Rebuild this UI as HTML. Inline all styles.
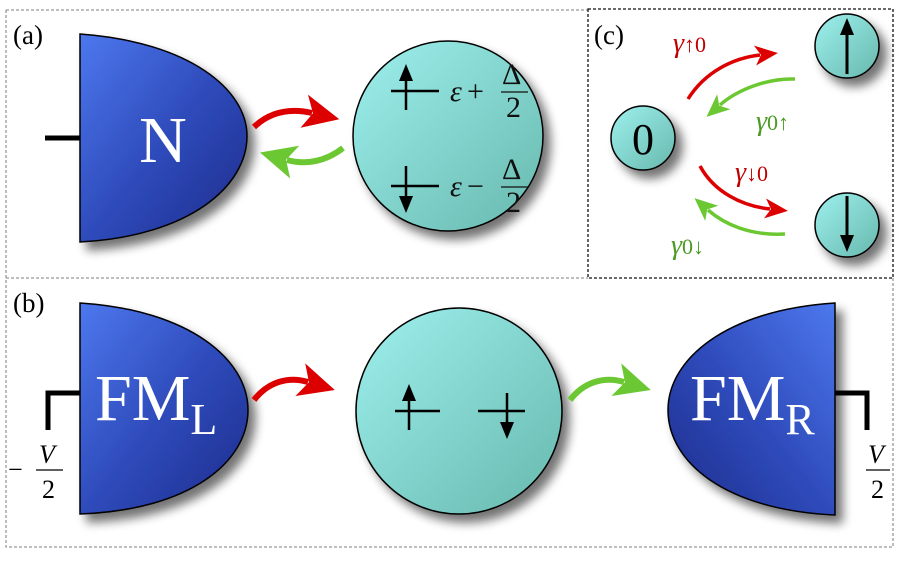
<!DOCTYPE html>
<html><head><meta charset="utf-8"><style>
body{margin:0;background:#fff}
text{font-family:"Liberation Serif","DejaVu Serif",serif}
</style></head><body>
<svg width="901" height="564" viewBox="0 0 901 564" xmlns="http://www.w3.org/2000/svg" style="font-family:'Liberation Serif','DejaVu Serif',serif">
<defs>
<linearGradient id="bl" x1="0" y1="0" x2="1" y2="1">
<stop offset="0" stop-color="#4d78ee"/><stop offset="0.5" stop-color="#2f4cbc"/><stop offset="1" stop-color="#1d2b8a"/></linearGradient>
<linearGradient id="bl2" x1="1" y1="0" x2="0" y2="1">
<stop offset="0" stop-color="#4d78ee"/><stop offset="0.5" stop-color="#2f4cbc"/><stop offset="1" stop-color="#1d2b8a"/></linearGradient>
<linearGradient id="cy" x1="0" y1="0" x2="1" y2="1">
<stop offset="0" stop-color="#9ef0ee"/><stop offset="1" stop-color="#67b8ad"/></linearGradient>
<filter id="sh" x="-20%" y="-20%" width="150%" height="150%"><feGaussianBlur in="SourceAlpha" stdDeviation="5"/><feOffset dx="7" dy="8"/><feComponentTransfer><feFuncA type="linear" slope="0.55"/></feComponentTransfer><feMerge><feMergeNode/><feMergeNode in="SourceGraphic"/></feMerge></filter>
<marker id="ar" markerWidth="40" markerHeight="40" refX="8" refY="20" orient="auto" markerUnits="userSpaceOnUse"><path d="M0,3 L36,20 L0,37 L9,20Z" fill="#dd0000"/></marker>
<marker id="ag" markerWidth="40" markerHeight="40" refX="8" refY="20" orient="auto" markerUnits="userSpaceOnUse"><path d="M0,3 L36,20 L0,37 L9,20Z" fill="#6cc832"/></marker>
<marker id="ars" markerWidth="24" markerHeight="24" refX="5" refY="12" orient="auto" markerUnits="userSpaceOnUse"><path d="M0,2 L23,12 L0,22 L6,12Z" fill="#dd0000"/></marker>
<marker id="ags" markerWidth="24" markerHeight="24" refX="5" refY="12" orient="auto" markerUnits="userSpaceOnUse"><path d="M0,2 L23,12 L0,22 L6,12Z" fill="#6cc832"/></marker>
<marker id="ak" markerWidth="18" markerHeight="18" refX="1" refY="9" orient="auto" markerUnits="userSpaceOnUse"><path d="M0,2 L17,9 L0,16 Z" fill="#000"/></marker>
</defs>
<path d="M6,10 H588 M6,10 V547 H893 V278 M6,278 H588" fill="none" stroke="#999" stroke-width="1.3" stroke-dasharray="3,2"/>
<rect x="588" y="9" width="305" height="269" fill="none" stroke="#111" stroke-width="1.3" stroke-dasharray="3,2"/>
<!-- (a) -->
<text x="13" y="44" font-size="27">(a)</text>
<line x1="45" y1="138" x2="82" y2="138" stroke="#000" stroke-width="5"/>
<path d="M80,34 C190,42 247,90 247,136 C247,186 190,236 80,242 Z" fill="url(#bl)" stroke="#000" stroke-width="1.5" filter="url(#sh)"/>
<text x="163" y="162" font-size="66" fill="#fff" text-anchor="middle">N</text>
<circle cx="448" cy="136" r="95" fill="url(#cy)" stroke="#000" stroke-width="1.5" filter="url(#sh)"/>
<path d="M254,127 C270,112 290,108 312,113" fill="none" stroke="#dd0000" stroke-width="6" marker-end="url(#ar)"/>
<path d="M343,148 C325,162 305,165 287,160" fill="none" stroke="#6cc832" stroke-width="6" marker-end="url(#ag)"/>
<line x1="391" y1="91" x2="439" y2="91" stroke="#000" stroke-width="2.5"/>
<line x1="406" y1="110" x2="406" y2="80" stroke="#000" stroke-width="2.5" marker-end="url(#ak)"/>
<line x1="391" y1="186" x2="439" y2="186" stroke="#000" stroke-width="2.5"/>
<line x1="406" y1="166" x2="406" y2="197" stroke="#000" stroke-width="2.5" marker-end="url(#ak)"/>
<g font-size="30" fill="#111">
<text x="450" y="101" font-style="italic">ε</text><text x="467" y="101">+</text>
<text x="502" y="84">Δ</text><line x1="501" y1="92" x2="528" y2="92" stroke="#111" stroke-width="1.3"/><text x="506" y="117">2</text>
<text x="450" y="196" font-style="italic">ε</text><text x="467" y="196">−</text>
<text x="502" y="179">Δ</text><line x1="501" y1="187" x2="528" y2="187" stroke="#111" stroke-width="1.3"/><text x="506" y="212">2</text>
</g>
<!-- (c) -->
<text x="594" y="44" font-size="27">(c)</text>
<circle cx="643" cy="138" r="32" fill="url(#cy)" stroke="#000" stroke-width="1.5" filter="url(#sh)"/>
<text x="643" y="154" font-size="44" text-anchor="middle">0</text>
<circle cx="847" cy="46" r="32" fill="url(#cy)" stroke="#000" stroke-width="1.5" filter="url(#sh)"/>
<line x1="847" y1="74" x2="847" y2="34" stroke="#000" stroke-width="3" marker-end="url(#ak)"/>
<circle cx="847" cy="225" r="32" fill="url(#cy)" stroke="#000" stroke-width="1.5" filter="url(#sh)"/>
<line x1="847" y1="196" x2="847" y2="236" stroke="#000" stroke-width="3" marker-end="url(#ak)"/>
<path d="M688,99 C705,72 733,58 760,55" fill="none" stroke="#dd0000" stroke-width="3.5" marker-end="url(#ars)"/>
<path d="M795,79 C767,78 737,90 720,105" fill="none" stroke="#6cc832" stroke-width="3.5" marker-end="url(#ags)"/>
<path d="M700,166 C714,192 742,206 770,209" fill="none" stroke="#dd0000" stroke-width="3.5" marker-end="url(#ars)"/>
<path d="M785,234 C750,236 724,224 708,210" fill="none" stroke="#6cc832" stroke-width="3.5" marker-end="url(#ags)"/>
<g font-size="28">
<text x="673" y="52" fill="#c00000"><tspan font-style="italic">γ</tspan><tspan font-size="22">↑0</tspan></text>
<text x="756" y="130" fill="#4c9a24"><tspan font-style="italic">γ</tspan><tspan font-size="22">0↑</tspan></text>
<text x="735" y="181" fill="#c00000"><tspan font-style="italic">γ</tspan><tspan font-size="22">↓0</tspan></text>
<text x="671" y="254" fill="#4c9a24"><tspan font-style="italic">γ</tspan><tspan font-size="22">0↓</tspan></text>
</g>
<!-- (b) -->
<text x="13" y="312" font-size="27">(b)</text>
<path d="M82,393 H48 V430" fill="none" stroke="#000" stroke-width="5"/>
<path d="M80,303 C190,310 248,360 248,410 C248,462 190,510 80,514 Z" fill="url(#bl)" stroke="#000" stroke-width="1.5" filter="url(#sh)"/>
<text x="95" y="420" font-size="66" fill="#fff">FM<tspan font-size="44" dy="14">L</tspan></text>
<text x="39" y="463" font-size="26" font-style="italic">V</text>
<text x="8" y="478" font-size="26">−</text><line x1="36" y1="470" x2="63" y2="470" stroke="#000" stroke-width="1.3"/><text x="42" y="498" font-size="26">2</text>
<circle cx="459" cy="411" r="103" fill="url(#cy)" stroke="#000" stroke-width="1.5" filter="url(#sh)"/>
<line x1="395" y1="411" x2="440" y2="411" stroke="#000" stroke-width="2.5"/>
<line x1="409" y1="430" x2="409" y2="400" stroke="#000" stroke-width="2.5" marker-end="url(#ak)"/>
<line x1="478" y1="411" x2="525" y2="411" stroke="#000" stroke-width="2.5"/>
<line x1="507" y1="393" x2="507" y2="423" stroke="#000" stroke-width="2.5" marker-end="url(#ak)"/>
<path d="M254,400 C268,382 288,376 308,382" fill="none" stroke="#dd0000" stroke-width="6" marker-end="url(#ar)"/>
<path d="M570,400 C584,382 604,376 624,382" fill="none" stroke="#6cc832" stroke-width="6" marker-end="url(#ag)"/>
<path d="M834,393 H867 V430" fill="none" stroke="#000" stroke-width="5"/>
<path d="M835,303 C725,310 668,360 668,410 C668,462 725,510 835,515 Z" fill="url(#bl2)" stroke="#000" stroke-width="1.5" filter="url(#sh)"/>
<text x="690" y="420" font-size="66" fill="#fff">FM<tspan font-size="44" dy="14">R</tspan></text>
<text x="868" y="463" font-size="26" font-style="italic">V</text>
<line x1="866" y1="470" x2="890" y2="470" stroke="#000" stroke-width="1.3"/><text x="871" y="498" font-size="26">2</text>
</svg>
</body></html>
